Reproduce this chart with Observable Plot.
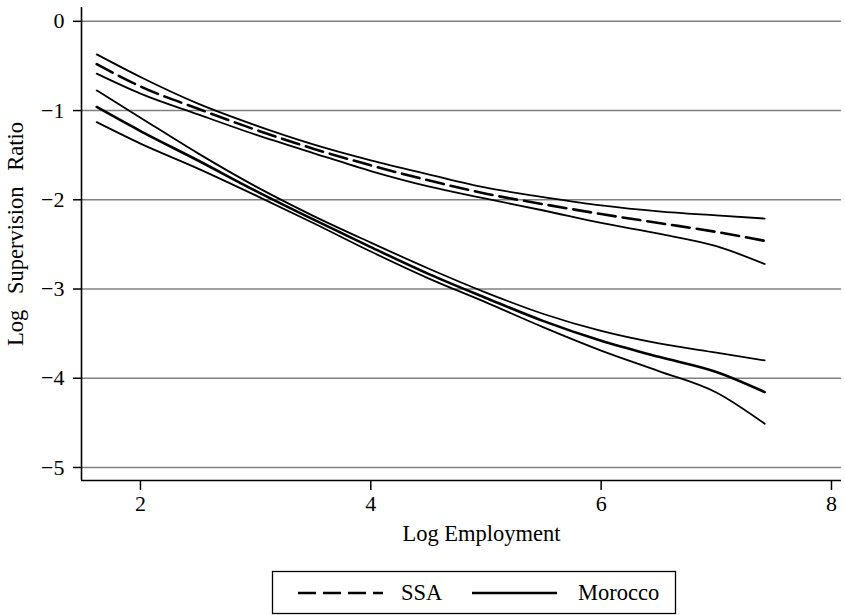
<!DOCTYPE html>
<html>
<head>
<meta charset="utf-8">
<script src="https://cdn.jsdelivr.net/npm/d3@7"></script>
<script src="https://cdn.jsdelivr.net/npm/@observablehq/plot@0.6"></script>
<style>
  html, body { margin: 0; padding: 0; background: white; }
  #chart svg { display: block; }
  #legend { display: block; }
</style>
</head>
<body>
<div id="chart"></div>
<svg id="legend" width="845" height="55"></svg>
<script>
// ---- data ----
const logEmployment = [1.62, 2, 2.5, 3, 3.5, 4, 4.5, 5, 5.5, 6, 6.5, 7, 7.42];
const ssaFit   = [-0.48, -0.73, -0.98, -1.215, -1.427, -1.614, -1.782, -1.932, -2.05, -2.16, -2.26, -2.36, -2.46];
const ssaUpper = [-0.37, -0.624, -0.923, -1.166, -1.379, -1.558, -1.715, -1.865, -1.97, -2.063, -2.13, -2.175, -2.21];
const ssaLower = [-0.586, -0.81, -1.043, -1.27, -1.476, -1.678, -1.85, -1.988, -2.12, -2.26, -2.38, -2.52, -2.72];
const morFit   = [-0.96, -1.23, -1.56, -1.90, -2.22, -2.53, -2.83, -3.10, -3.36, -3.58, -3.76, -3.93, -4.155];
const morUpper = [-0.774, -1.08, -1.48, -1.85, -2.18, -2.48, -2.77, -3.04, -3.28, -3.47, -3.61, -3.714, -3.80];
const morLower = [-1.13, -1.37, -1.65, -1.95, -2.26, -2.58, -2.88, -3.15, -3.43, -3.69, -3.92, -4.16, -4.51];
const xTicks = [2, 4, 6, 8];
const yTicks = [0, -1, -2, -3, -4, -5];
const xDomain = [1.488, 8.087];
const yDomain = [-5.146, 0.155];
const xLabel = "Log Employment";
const yLabel = "Log Supervision Ratio";
const seriesNames = ["SSA", "Morocco"];

const toRows = (ys) => logEmployment.map((x, i) => ({x, y: ys[i]}));
const font = "'Liberation Serif', 'Times New Roman', serif";
const fmt = d => (d < 0 ? "\u2212" : "") + Math.abs(d);

const plot = Plot.plot({
  width: 845,
  height: 560,
  marginLeft: 81,
  marginRight: 4,
  marginTop: 7,
  marginBottom: 80,
  style: {fontFamily: font, fontSize: "22px", background: "white", color: "black"},
  x: {domain: xDomain, ticks: xTicks, label: null},
  y: {domain: yDomain, ticks: yTicks, label: null},
  marks: [
    Plot.ruleY(yTicks, {stroke: "#808080", strokeWidth: 1.5}),
    Plot.ruleX([xDomain[0]], {stroke: "black", strokeWidth: 1.6}),
    Plot.ruleY([yDomain[0]], {stroke: "black", strokeWidth: 1.6}),
    Plot.axisY(yTicks, {tickSize: 8, tickPadding: 9, strokeWidth: 1.5, label: null, fontSize: 22, tickFormat: fmt}),
    Plot.axisX(xTicks, {tickSize: 10, tickPadding: 5, strokeWidth: 1.5, label: null, fontSize: 22, tickFormat: fmt}),
    Plot.line(toRows(ssaUpper), {x: "x", y: "y", stroke: "black", strokeWidth: 1.8, curve: "monotone-x"}),
    Plot.line(toRows(ssaLower), {x: "x", y: "y", stroke: "black", strokeWidth: 1.8, curve: "monotone-x"}),
    Plot.line(toRows(ssaFit), {x: "x", y: "y", stroke: "black", strokeWidth: 2.6, strokeDasharray: "18,7", curve: "monotone-x"}),
    Plot.line(toRows(morUpper), {x: "x", y: "y", stroke: "black", strokeWidth: 1.8, curve: "monotone-x"}),
    Plot.line(toRows(morLower), {x: "x", y: "y", stroke: "black", strokeWidth: 1.8, curve: "monotone-x"}),
    Plot.line(toRows(morFit), {x: "x", y: "y", stroke: "black", strokeWidth: 2.6, curve: "monotone-x"}),
    Plot.text([xLabel], {frameAnchor: "bottom", dx: 20, dy: 53, text: d => d, fontSize: 22.5,
      textAnchor: "middle", lineAnchor: "middle"}),
    Plot.text([yLabel], {frameAnchor: "left", dx: -66, dy: -10, rotate: -90,
      text: d => d.replace(/ /g, "\u2002\u2009"), fontSize: 22.5, textAnchor: "middle", lineAnchor: "middle"})
  ]
});
document.getElementById("chart").appendChild(plot);

// ---- legend ----
const lg = d3.select("#legend");
lg.append("rect").attr("x", 272.5).attr("y", 11.5).attr("width", 403).attr("height", 42)
  .attr("fill", "white").attr("stroke", "black").attr("stroke-width", 1.3);
const items = [
  {name: seriesNames[0], x1: 298, x2: 383, tx: 401, dash: "18,7"},
  {name: seriesNames[1], x1: 472, x2: 557, tx: 578, dash: null}
];
items.forEach(it => {
  lg.append("line").attr("x1", it.x1).attr("x2", it.x2).attr("y1", 33).attr("y2", 33)
    .attr("stroke", "black").attr("stroke-width", 2.6).attr("stroke-dasharray", it.dash);
  lg.append("text").attr("x", it.tx).attr("y", 40).attr("font-family", font).attr("font-size", 22.5)
    .text(it.name);
});
</script>
</body>
</html>
